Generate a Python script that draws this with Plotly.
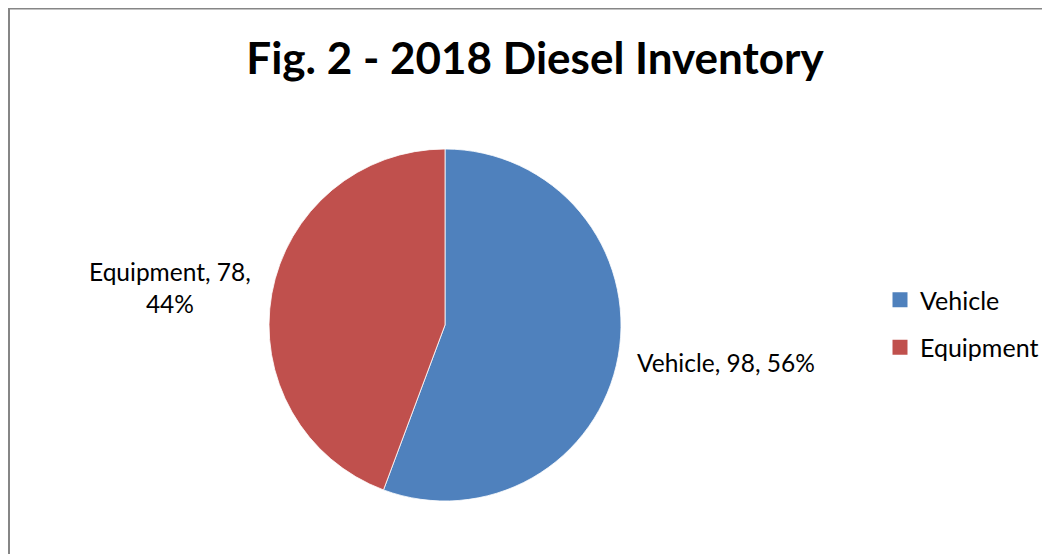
import plotly.graph_objects as go

categories = ["Vehicle", "Equipment"]
values = [98, 78]
colors = ["#4F81BD", "#C0504D"]
title_text = "Fig. 2 - 2018 Diesel Inventory"

W, H = 1050, 554
OFF = 8  # page body margin
FONT = "Lato"
total = sum(values)
pcts = [round(v / total * 100) for v in values]

def px(x):
    return (x - OFF) / W

def py(y):
    return 1 - (y - OFF) / H

fig = go.Figure()
fig.add_trace(go.Pie(
    labels=categories, values=values, sort=False, direction="clockwise", rotation=0,
    marker=dict(colors=colors, line=dict(color="white", width=0.8)),
    textinfo="none", hoverinfo="label+value+percent", showlegend=False,
    domain=dict(x=[px(269), px(621)], y=[py(501), py(149)]),
))

# legend entries (one group each so the spacing can be set)
for c, col in zip(categories, colors):
    fig.add_trace(go.Scatter(x=[None], y=[None], mode="markers", name=c,
                             legendgroup=c,
                             marker=dict(symbol="square", color=col, size=15)))

lab_font = dict(family=FONT, size=24.5, color="#000")
fig.add_annotation(x=px(726), y=py(362), xref="paper", yref="paper",
                   text=f"{categories[0]}, {values[0]}, {pcts[0]}%", showarrow=False,
                   font=lab_font, xanchor="center", yanchor="middle")
fig.add_annotation(x=px(170), y=py(287), xref="paper", yref="paper",
                   text=f"{categories[1]}, {values[1]},<br>{pcts[1]}%", showarrow=False,
                   font=lab_font, xanchor="center", yanchor="middle")

fig.update_layout(
    width=W, height=H, margin=dict(l=0, r=0, t=0, b=0),
    paper_bgcolor="white", plot_bgcolor="white",
    title=dict(text=f"<b>{title_text}</b>", x=px(535), xanchor="center", y=py(59),
               yanchor="middle", font=dict(family=FONT, size=44, color="#000")),
    xaxis=dict(visible=False), yaxis=dict(visible=False),
    legend=dict(x=px(880), y=py(277), xanchor="left", yanchor="top",
                font=dict(family=FONT, size=25, color="#000"), tracegroupgap=12,
                bgcolor="rgba(0,0,0,0)"),
    shapes=[dict(type="rect", xref="paper", yref="paper", x0=1 / W, x1=1.02,
                 y0=-0.02, y1=1 - 0.5 / H, line=dict(color="#868686", width=2),
                 fillcolor="rgba(0,0,0,0)", layer="below")],
)

fig.write_html("out.html")
